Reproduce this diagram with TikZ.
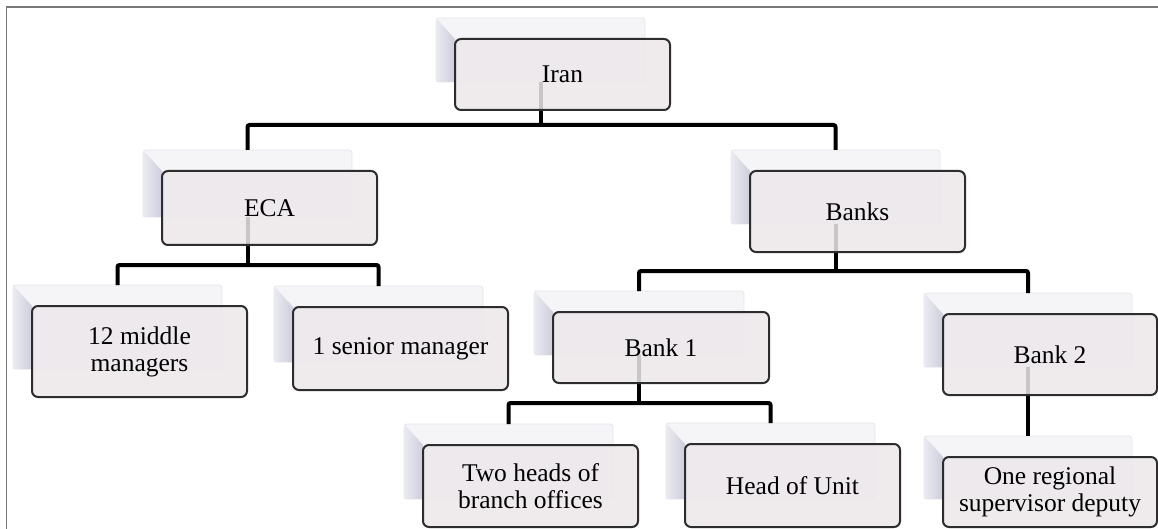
\documentclass[tikz,border=0pt]{standalone}
\usepackage{fontspec}
\setmainfont{Liberation Serif}

\pgfdeclarelayer{plates}
\pgfdeclarelayer{links}
\pgfsetlayers{plates,links,main}

\definecolor{framegray}{RGB}{120,120,120}
\definecolor{facefill}{RGB}{236,232,234}
\definecolor{faceedge}{RGB}{45,45,45}
\definecolor{platefill}{RGB}{245,245,248}
\definecolor{plateedge}{RGB}{228,228,234}
\definecolor{sidelight}{RGB}{234,234,241}
\definecolor{sidedark}{RGB}{206,206,219}

\tikzset{
  plate/.style={draw=plateedge, fill=platefill, line width=0.8pt, rounded corners=3pt,
                inner sep=0pt, outer sep=0pt},
  face/.style={draw=faceedge, fill=facefill, fill opacity=0.85, text opacity=1,
               line width=2pt, rounded corners=6pt, inner sep=0pt, outer sep=0pt,
               align=center, font=\fontsize{25.5}{27}\selectfont},
  link/.style={line width=4pt, black, rounded corners=2pt},
  frameline/.style={draw=framegray, line width=1.5pt}
}

% \orgunit{name}{left}{top}{right}{bottom}{label}
% draws a raised plate behind a labelled face box
\newcommand{\orgunit}[6]{%
  \pgfmathsetmacro{\uw}{#4-#2}%
  \pgfmathsetmacro{\uh}{#5-#3}%
  \pgfmathsetmacro{\pw}{#4-#2-6}%
  \pgfmathsetmacro{\ph}{#5-#3-7}%
  \begin{pgfonlayer}{plates}
    \node[plate, anchor=north west, minimum width=\pw pt, minimum height=\ph pt]
      (#1-b) at (#2-19,#3-21) {};
    \shade[left color=sidelight, right color=sidedark]
      (#1-b.north west) -- (#2,#3) -- (#2,#5-28) -- (#1-b.south west) -- cycle;
  \end{pgfonlayer}
  \node[face, minimum width=\uw pt, minimum height=\uh pt]
    (#1) at ({(#2+#4)/2},{(#3+#5)/2}) {#6};
}

\begin{document}
\begin{tikzpicture}[x=1pt,y=-1pt]
  \useasboundingbox (0,0) rectangle (1158,529);

  % outer frame
  \draw[frameline] (6.5,529) -- (6.5,7) -- (1158,7);

  \orgunit{iran}{455}{39}{670}{110}{Iran}
  \orgunit{eca}{162}{171}{377}{245}{ECA}
  \orgunit{banks}{750}{171}{965}{252}{Banks}
  \orgunit{mid}{32}{306}{247}{397}{12 middle\\managers}
  \orgunit{senior}{293}{307}{508}{390}{1 senior manager}
  \orgunit{bankone}{553}{312}{769}{383}{Bank 1}
  \orgunit{banktwo}{943}{314}{1157}{395}{Bank 2}
  \orgunit{heads}{423}{445}{638}{527}{Two heads of\\branch offices}
  \orgunit{unit}{685}{444}{900}{527}{Head of Unit}
  \orgunit{deputy}{943}{457}{1157}{527}{One regional\\supervisor deputy}

  \begin{pgfonlayer}{links}
    \draw[link] (iran-b.south) -- ++(0,43) coordinate (iranbus);
    \draw[link] (eca-b.north) |- (iranbus) -| (banks-b.north);

    \draw[link] (eca-b.south) -- ++(0,48) coordinate (ecabus);
    \draw[link] (mid-b.north) |- (ecabus) -| (senior-b.north);

    \draw[link] (banks-b.south) -- ++(0,47) coordinate (banksbus);
    \draw[link] (bankone-b.north) |- (banksbus) -| (banktwo-b.north);

    \draw[link] (bankone-b.south) -- ++(0,48) coordinate (bankonebus);
    \draw[link] (heads-b.north) |- (bankonebus) -| (unit-b.north);

    \draw[link] (banktwo-b.south) -- (deputy-b.north);
  \end{pgfonlayer}
\end{tikzpicture}
\end{document}
